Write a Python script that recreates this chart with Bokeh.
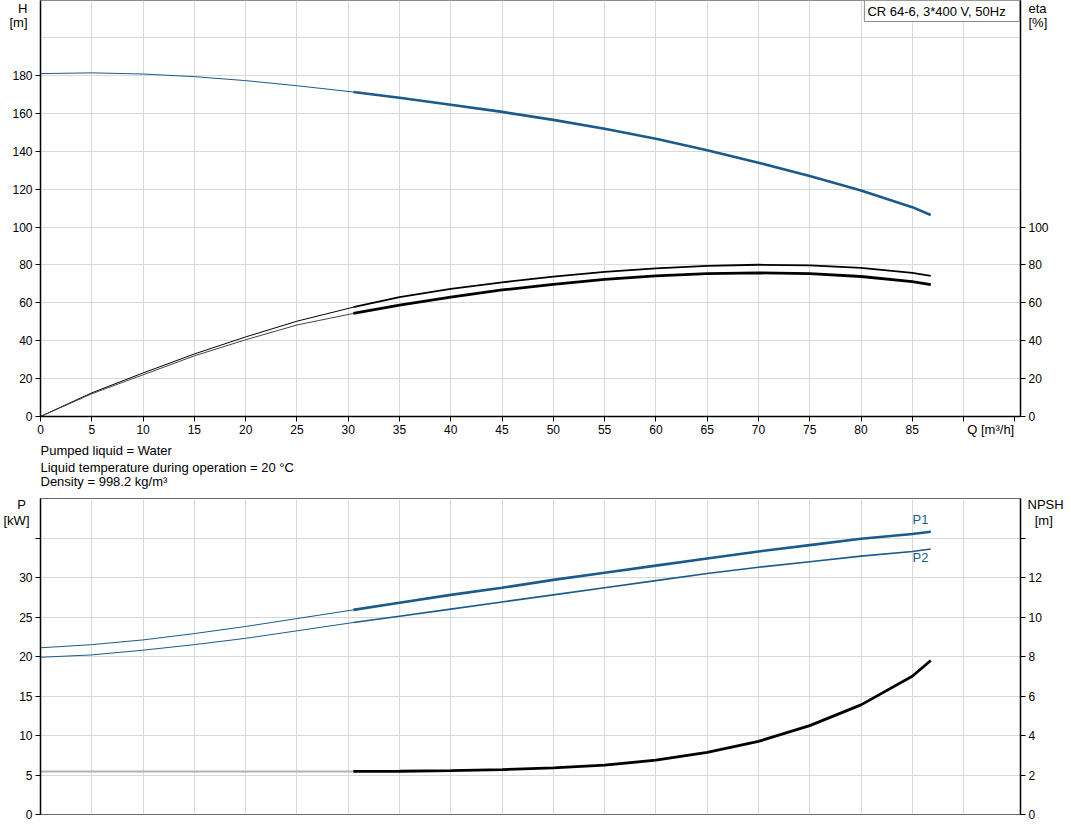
from bokeh.plotting import figure
from bokeh.models import Range1d, LinearAxis, FixedTicker, Label, Title
from bokeh.layouts import column
from bokeh.embed import file_html
from bokeh.resources import INLINE

# ---------------- data ----------------
q_thin = [0, 5, 10, 15, 20, 25, 30.5]
q_thick = [30.5, 35, 40, 45, 50, 55, 60, 65, 70, 75, 80, 85, 86.8]

h_thin = [181.0, 181.4, 180.8, 179.4, 177.3, 174.6, 171.3]
h_thick = [171.3, 168.3, 164.6, 160.8, 156.6, 151.9, 146.6, 140.6, 134.0, 127.0, 119.3, 110.5, 106.4]

eta_p_thin = [0, 12.5, 23.0, 33.0, 42.0, 50.3, 57.7]
eta_p_thick = [57.7, 63.0, 67.4, 70.8, 73.8, 76.3, 78.2, 79.5, 80.1, 79.8, 78.5, 75.8, 74.2]
eta_t_thin = [0, 12.0, 22.0, 32.0, 40.5, 48.3, 54.4]
eta_t_thick = [54.4, 58.8, 63.0, 66.8, 69.8, 72.4, 74.2, 75.4, 75.8, 75.4, 73.9, 71.2, 69.6]

p1_thin = [21.1, 21.5, 22.1, 22.9, 23.8, 24.8, 25.9]
p1_thick = [25.9, 26.8, 27.8, 28.7, 29.7, 30.6, 31.5, 32.4, 33.3, 34.1, 34.9, 35.5, 35.8]
p2_thin = [19.9, 20.2, 20.8, 21.5, 22.3, 23.25, 24.3]
p2_thick = [24.3, 25.1, 26.0, 26.9, 27.8, 28.7, 29.6, 30.5, 31.3, 32.0, 32.7, 33.3, 33.6]

npsh_thin = [2.18, 2.18, 2.18, 2.18, 2.18, 2.18, 2.18]
npsh_thick = [2.18, 2.19, 2.22, 2.27, 2.36, 2.5, 2.75, 3.15, 3.7, 4.5, 5.55, 7.0, 7.8]

x_ticks = list(range(0, 96, 5))
x_grid = list(range(0, 91, 5))
h_ticks = list(range(0, 181, 20))
h_grid = list(range(0, 201, 20))
eta_ticks = list(range(0, 101, 20))
p_ticks = list(range(0, 36, 5))
npsh_ticks = list(range(0, 15, 2))

info_lines = ["Pumped liquid = Water",
              "Liquid temperature during operation = 20 \u00b0C",
              "Density = 998.2 kg/m\u00b3"]
title_text = "CR 64-6, 3*400 V, 50Hz"
q_title = "Q [m\u00b3/h]"

# ---------------- style ----------------
FONT = "Liberation Sans"
BLUE = "#1b5a8c"
GRID = "#d9d9d9"
QMAX = 95.55
HMAX = 219.6
NB = "\u00a0"


def style_axis(ax, ticks, overrides=None):
    ax.ticker = FixedTicker(ticks=ticks)
    ax.major_tick_out = 5
    ax.major_tick_in = 0
    ax.minor_tick_out = 0
    ax.minor_tick_in = 0
    ax.axis_line_color = "black"
    ax.axis_line_width = 1.5
    ax.major_tick_line_color = "black"
    ax.major_label_text_font = FONT
    ax.major_label_text_font_size = "12px"
    ax.major_label_text_color = "black"
    ax.major_label_standoff = 3
    if overrides:
        ax.major_label_overrides = overrides


def text_axis(ticks, labels, standoff, range_name=None):
    """An axis with no line and no tick marks that only carries title texts."""
    kw = {} if range_name is None else {"y_range_name": range_name}
    ax = LinearAxis(**kw)
    ax.ticker = FixedTicker(ticks=ticks)
    ax.major_label_overrides = dict(zip(ticks, labels))
    ax.axis_line_alpha = 0
    ax.major_tick_line_alpha = 0
    ax.major_tick_out = 0
    ax.major_tick_in = 0
    ax.minor_tick_out = 0
    ax.minor_tick_in = 0
    ax.major_label_standoff = standoff
    ax.major_label_text_font = FONT
    ax.major_label_text_font_size = "13px"
    ax.major_label_text_color = "black"
    return ax


# ---------------- top chart ----------------
p1 = figure(width=1070, height=493, x_range=Range1d(0, QMAX), y_range=Range1d(0, HMAX),
            output_backend="svg", toolbar_location=None,
            min_border_left=39, min_border_right=50, min_border_top=0, min_border_bottom=77)
p1.extra_y_ranges = {"eta": Range1d(0, HMAX)}
p1.outline_line_color = "#8a8a8a"

style_axis(p1.xaxis[0], x_ticks, {90: "", 95: ""})
style_axis(p1.yaxis[0], h_ticks)
eta_axis = LinearAxis(y_range_name="eta")
style_axis(eta_axis, eta_ticks)
p1.add_layout(eta_axis, "right")

# axis titles
p1.add_layout(text_axis([216.1, 208.2], ["H", "[m]"], -18), "left")
p1.add_layout(text_axis([215.8, 208.0], ["eta", "[%]"], -23, "eta"), "right")
p1.add_layout(text_axis([92.65], [q_title], -15), "below")

for i, t in enumerate(info_lines):
    p1.add_layout(Title(text=t, align="left", offset=0, standoff=3 if i == 0 else -3,
                        text_font=FONT, text_font_size="13px", text_font_style="normal",
                        text_color="black"), "below")

p1.xgrid.ticker = FixedTicker(ticks=x_grid)
p1.ygrid.ticker = FixedTicker(ticks=h_grid)
p1.grid.grid_line_color = GRID
p1.grid.grid_line_width = 1

p1.line(q_thin, h_thin, line_color=BLUE, line_width=1)
p1.line(q_thick, h_thick, line_color=BLUE, line_width=2.6)
p1.line(q_thin, eta_p_thin, line_color="black", line_width=1, y_range_name="eta")
p1.line(q_thick, eta_p_thick, line_color="black", line_width=1.8, y_range_name="eta")
p1.line(q_thin, eta_t_thin, line_color="#444444", line_width=1, y_range_name="eta")
p1.line(q_thick, eta_t_thick, line_color="black", line_width=2.8, y_range_name="eta")

tl = Label(x=QMAX, y=HMAX, text=title_text + NB * 3, text_font=FONT, text_font_size="13px",
           text_color="black", text_align="right", text_baseline="top",
           x_offset=-1, y_offset=0,
           background_fill_color="white", border_line_color="#8a8a8a",
           border_line_width=1, padding=3)
p1.add_layout(tl)

# ---------------- bottom chart ----------------
p2 = figure(width=1070, height=339, x_range=p1.x_range, y_range=Range1d(0, 40),
            output_backend="svg", toolbar_location=None,
            min_border_left=39, min_border_right=50, min_border_top=5, min_border_bottom=18)
p2.extra_y_ranges = {"npsh": Range1d(0, 16)}
p2.outline_line_color = "#6a6a6a"
p2.xaxis.visible = False
style_axis(p2.yaxis[0], p_ticks, {35: ""})
npsh_axis = LinearAxis(y_range_name="npsh")
style_axis(npsh_axis, npsh_ticks, {14: ""})
p2.add_layout(npsh_axis, "right")

p2.add_layout(text_axis([39.2, 37.2], ["P" + NB, "[kW]"], -13), "left")
p2.add_layout(text_axis([15.68, 14.88], ["NPSH", NB * 2 + "[m]"], -17, "npsh"), "right")

p2.xgrid.ticker = FixedTicker(ticks=x_grid)
p2.ygrid.ticker = FixedTicker(ticks=p_ticks)
p2.grid.grid_line_color = GRID
p2.grid.grid_line_width = 1

p2.line(q_thin, p1_thin, line_color=BLUE, line_width=1)
p2.line(q_thick, p1_thick, line_color=BLUE, line_width=2.6)
p2.line(q_thin, p2_thin, line_color=BLUE, line_width=1)
p2.line(q_thick, p2_thick, line_color=BLUE, line_width=1.6)
p2.line(q_thin, npsh_thin, line_color="#b3b3b3", line_width=2, y_range_name="npsh")
p2.line(q_thick, npsh_thick, line_color="black", line_width=2.8, y_range_name="npsh")

for txt, yv in (("P1", 37.3), ("P2", 32.5)):
    p2.add_layout(Label(x=85.8, y=yv, text=txt, text_font=FONT, text_font_size="13px",
                        text_color=BLUE, text_align="center", text_baseline="middle"))

layout = column(p1, p2, spacing=0)
open("out.html", "w").write(file_html(layout, INLINE))
